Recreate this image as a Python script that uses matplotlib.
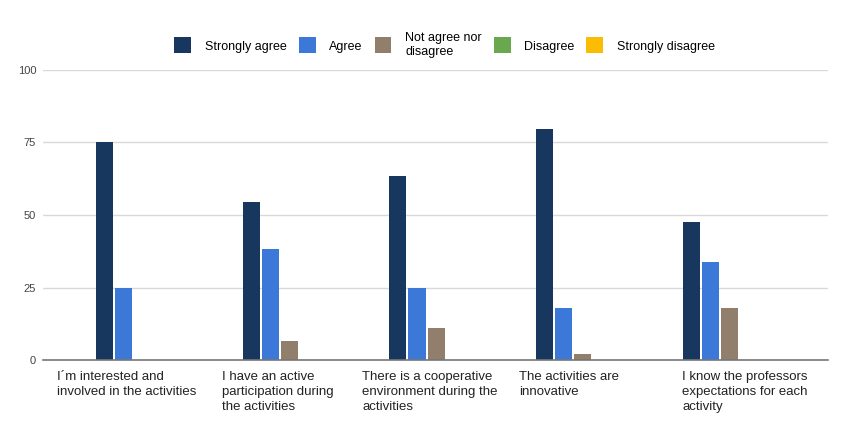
import numpy as np
import matplotlib
matplotlib.use("Agg")
import matplotlib.pyplot as plt

plt.rcParams['font.family'] = ['Liberation Sans', 'DejaVu Sans']

categories = ["I´m interested and\ninvolved in the activities",
              "I have an active\nparticipation during\nthe activities",
              "There is a cooperative\nenvironment during the\nactivities",
              "The activities are\ninnovative",
              "I know the professors\nexpectations for each\nactivity"]
series = ["Strongly agree", "Agree", "Not agree nor\ndisagree", "Disagree", "Strongly disagree"]
strongly_agree = [75, 54.5, 63.5, 79.5, 47.6]
agree = [25, 38.3, 25, 17.8, 33.9]
neutral = [0, 6.6, 11.1, 2, 17.8]
disagree = [0, 0, 0, 0, 0]
strongly_disagree = [0, 0, 0, 0, 0]
colors = ["#17375e", "#3c78d8", "#927f6b", "#6aa84f", "#fbbc04"]

values = [strongly_agree, agree, neutral, disagree, strongly_disagree]

fig = plt.figure(figsize=(8.44, 4.37), dpi=100)
ax = fig.add_axes([0.051, 0.176, 0.93, 0.664])

x = np.arange(len(categories))
w = 0.116
step = 0.13
for j, (name, vals) in enumerate(zip(series, values)):
    ax.bar(x + (j - 2) * step, vals, width=w, color=colors[j], label=name)

ax.set_ylim(0, 100)
ax.set_xlim(-0.678, 4.67)
ax.set_yticks([0, 25, 50, 75, 100])
ax.grid(axis='y', color='#d9d9d9', linewidth=1)
ax.set_axisbelow(True)
for s in ['top', 'right', 'left']:
    ax.spines[s].set_visible(False)
ax.spines['bottom'].set_color('#777777')
ax.spines['bottom'].set_linewidth(1.2)
ax.tick_params(axis='y', length=0, labelsize=8, labelcolor='#444444', pad=5)
ax.set_xticks([])

# wrapped category labels, left aligned like the sheets chart
label_shift = [-0.583, -0.458, -0.503, -0.433, -0.322]
for i, lab in enumerate(categories):
    ax.text(i + label_shift[i], -3.8, lab, ha='left', va='top', fontsize=9.5,
            color='#222222', linespacing=1.3, transform=ax.transData)

fig.legend(loc='center', bbox_to_anchor=(0.527, 0.897), ncol=5, frameon=False,
           fontsize=9, handlelength=1.35, handleheight=1.6, columnspacing=0.95,
           handletextpad=1.1)

fig.savefig("out.png", dpi=100, facecolor='white')
